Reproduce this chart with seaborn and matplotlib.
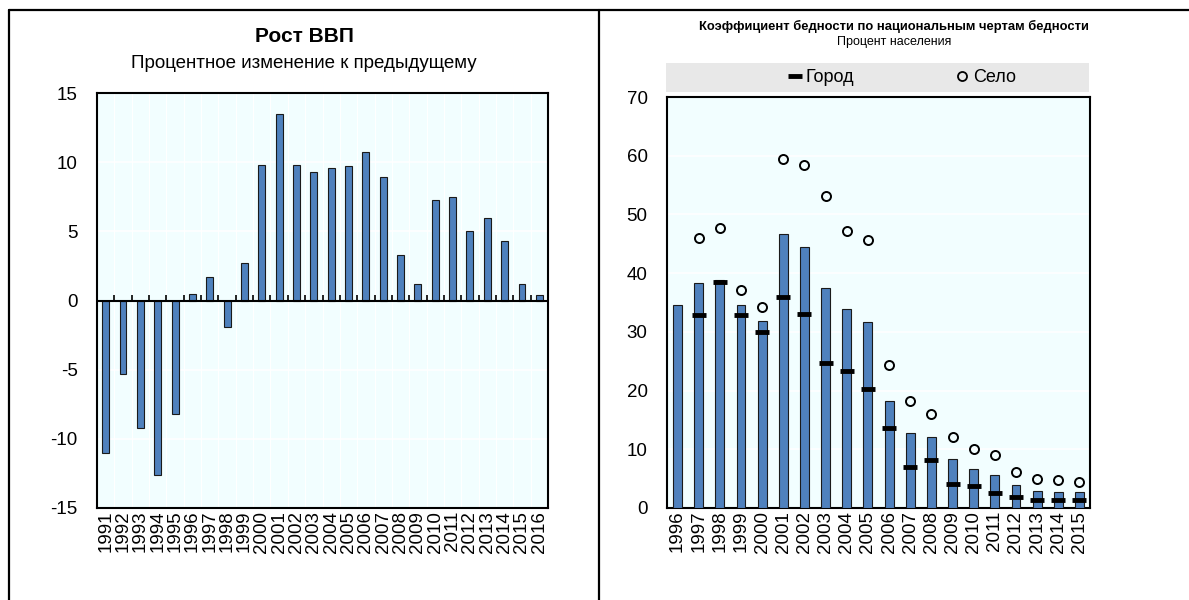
import numpy as np
import pandas as pd
import seaborn as sns
import matplotlib.pyplot as plt
from matplotlib.lines import Line2D
from matplotlib.patches import Rectangle

# GDP growth, % change on previous year
gdp_years = [str(y) for y in range(1991, 2017)]
gdp_growth = [-11.0, -5.3, -9.2, -12.6, -8.2, 0.5, 1.7, -1.9, 2.7, 9.8, 13.5, 9.8, 9.3,
              9.6, 9.7, 10.7, 8.9, 3.3, 1.2, 7.3, 7.5, 5.0, 6.0, 4.3, 1.2, 0.4]

# Poverty headcount at national poverty lines, % of population
pov_years = [str(y) for y in range(1996, 2016)]
pov_total = [34.6, 38.4, 38.8, 34.5, 31.8, 46.6, 44.5, 37.5, 33.9, 31.6,
             18.2, 12.7, 12.1, 8.3, 6.6, 5.6, 3.9, 2.9, 2.8, 2.7]
pov_urban = [np.nan, 32.8, 38.5, 32.9, 30.0, 35.9, 33.0, 24.7, 23.4, 20.2,
             13.7, 7.0, 8.2, 4.1, 3.7, 2.5, 1.9, 1.3, 1.3, 1.3]
pov_rural = [np.nan, 46.0, 47.7, 37.1, 34.2, 59.5, 58.4, 53.2, 47.1, 45.6,
             24.4, 18.2, 16.0, 12.1, 10.1, 9.1, 6.1, 4.9, 4.8, 4.4]

sns.set_style("white")
plt.rcParams['font.family'] = ['Liberation Sans Narrow', 'Liberation Sans', 'DejaVu Sans']
plt.rcParams['axes.unicode_minus'] = False
plt.rcParams['text.color'] = 'black'
plt.rcParams['xtick.color'] = 'black'
plt.rcParams['ytick.color'] = 'black'

bar_col = '#4F81BD'
bg_col = '#F2FEFF'

fig = plt.figure(figsize=(11.89, 6.0), dpi=100)

# frame lines around the two panels
for l in [Line2D([9/1189, 1], [0.9833, 0.9833]),
          Line2D([9/1189, 9/1189], [0, 0.9833]),
          Line2D([599/1189, 599/1189], [0, 0.9833])]:
    l.set_color('black')
    l.set_linewidth(1.6)
    fig.add_artist(l)

# ---- left panel: GDP growth ----
ax1 = fig.add_axes([97/1189, 1 - 508/600, 451/1189, 415/600])
ax1.set_facecolor(bg_col)
df1 = pd.DataFrame({'year': gdp_years, 'growth': gdp_growth})
sns.barplot(data=df1, x='year', y='growth', ax=ax1, color=bar_col, saturation=1,
            width=0.4, edgecolor='#1a1a1a', linewidth=0.8, zorder=3)
n1 = len(gdp_years)
ax1.set_xlim(-0.5, n1 - 0.5)
ax1.set_ylim(-15, 15)
ax1.set_yticks([-15, -10, -5, 0, 5, 10, 15])
ax1.set_xticks(np.arange(n1 + 1) - 0.5, minor=True)
ax1.grid(axis='y', color='white', lw=1.2, zorder=0)
ax1.grid(axis='x', which='minor', color='white', lw=0.8, zorder=0)
ax1.axhline(0, color='black', lw=1.5, zorder=4)
ax1.vlines(np.arange(n1 + 1) - 0.5, 0, 0.4, color='black', lw=1.2, zorder=4)
ax1.set_xticks(np.arange(n1))
ax1.set_xticklabels(gdp_years, rotation=90)
ax1.tick_params(axis='both', which='both', length=0, labelsize=13.5)
ax1.tick_params(axis='y', pad=14)
ax1.tick_params(axis='x', pad=2)
ax1.set_xlabel('')
ax1.set_ylabel('')
for s in ax1.spines.values():
    s.set_color('black')
    s.set_linewidth(1.5)

fig.text(304/1189, 1 - 37/600, 'Рост ВВП', ha='center', va='center',
         fontsize=15, fontweight='bold')
fig.text(304/1189, 1 - 64/600, 'Процентное изменение к предыдущему', ha='center',
         va='center', fontsize=13.5)

# ---- right panel: poverty ----
ax2 = fig.add_axes([667/1189, 1 - 508/600, 423/1189, 411/600])
ax2.set_facecolor(bg_col)
df2 = pd.DataFrame({'year': pov_years, 'total': pov_total,
                    'urban': pov_urban, 'rural': pov_rural})
sns.barplot(data=df2, x='year', y='total', ax=ax2, color=bar_col, saturation=1,
            width=0.42, edgecolor='#1a1a1a', linewidth=0.8, zorder=3)
n2 = len(pov_years)
pos = np.arange(n2)
ax2.plot(pos, df2['urban'], ls='none', marker='_', ms=10, mew=3.5, color='black',
         zorder=5, label='Город')
ax2.plot(pos, df2['rural'], ls='none', marker='o', ms=6.5, mew=1.4, mfc='none',
         mec='black', zorder=5, label='Село')
ax2.set_xlim(-0.5, n2 - 0.5)
ax2.set_ylim(0, 70)
ax2.set_yticks(range(0, 71, 10))
ax2.grid(axis='y', color='white', lw=1.2, zorder=0)
ax2.set_xticks(pos)
ax2.set_xticklabels(pov_years, rotation=90)
ax2.tick_params(axis='both', length=0, labelsize=13.5)
ax2.tick_params(axis='y', pad=14)
ax2.tick_params(axis='x', pad=2)
ax2.set_xlabel('')
ax2.set_ylabel('')
for s in ax2.spines.values():
    s.set_color('black')
    s.set_linewidth(1.5)

# grey legend band
ax2.add_patch(Rectangle((-0.002, 1 + 5/411), 1.0, 29/411, transform=ax2.transAxes,
                        facecolor='#E8E8E8', edgecolor='none', clip_on=False, zorder=1))
h_urb = Line2D([], [], ls='none', marker='_', ms=10, mew=3.5, color='black')
h_rur = Line2D([], [], ls='none', marker='o', ms=6.5, mew=1.3, mfc='none', mec='black')
ax2.legend([h_urb, h_rur], ['Город', 'Село'], ncol=2, frameon=False,
           loc='center', bbox_to_anchor=(0.556, 1 + 19.5/411), fontsize=13,
           columnspacing=5.6, handlelength=0.7, handletextpad=0.25)

fig.text(894/1189, 1 - 26/600, 'Коэффициент бедности по национальным чертам бедности',
         ha='center', va='center', fontsize=9.4, fontweight='bold')
fig.text(894/1189, 1 - 42/600, 'Процент населения', ha='center', va='center',
         fontsize=9)

fig.savefig('out.png', dpi=100)
